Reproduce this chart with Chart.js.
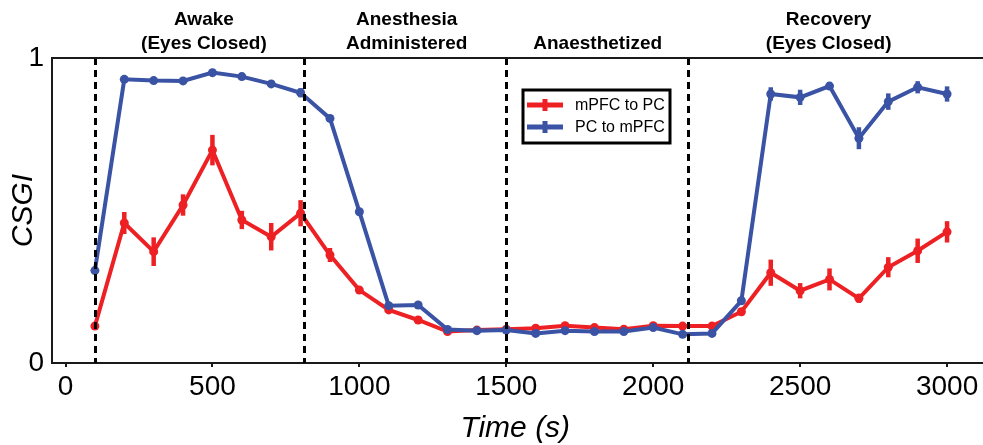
<!DOCTYPE html>
<html>
<head>
<meta charset="utf-8">
<script src="https://cdn.jsdelivr.net/npm/chart.js@4.4.1/dist/chart.umd.min.js"></script>
<style>
  html, body { margin: 0; padding: 0; background: #fff; overflow: hidden; }
  #wrap { position: relative; width: 983px; height: 445px; }
</style>
</head>
<body>
<div id="wrap"><canvas id="c"></canvas></div>
<script>
// ---- data ----
const times = [100, 200, 300, 400, 500, 600, 700, 800, 900, 1000,
               1100, 1200, 1300, 1400, 1500, 1600, 1700, 1800, 1900, 2000,
               2100, 2200, 2300, 2400, 2500, 2600, 2700, 2800, 2900, 3000];
const mpfcToPc = [0.121, 0.459, 0.365, 0.518, 0.698, 0.469, 0.414, 0.491, 0.354, 0.239,
                  0.174, 0.141, 0.103, 0.108, 0.111, 0.114, 0.122, 0.116, 0.111, 0.122,
                  0.121, 0.121, 0.168, 0.296, 0.237, 0.274, 0.212, 0.314, 0.368, 0.430];
const mpfcToPcErr = [0.010, 0.036, 0.047, 0.035, 0.050, 0.030, 0.045, 0.043, 0.023, 0.010,
                     0.008, 0.008, 0.006, 0.006, 0.006, 0.008, 0.008, 0.006, 0.006, 0.008,
                     0.008, 0.008, 0.012, 0.043, 0.025, 0.036, 0.015, 0.033, 0.040, 0.035];
const pcToMpfc = [0.303, 0.930, 0.926, 0.925, 0.952, 0.939, 0.915, 0.886, 0.802, 0.496,
                  0.188, 0.190, 0.110, 0.106, 0.108, 0.097, 0.106, 0.103, 0.103, 0.116,
                  0.094, 0.097, 0.204, 0.882, 0.871, 0.908, 0.737, 0.857, 0.904, 0.882];
const pcToMpfcErr = [0.008, 0.010, 0.010, 0.010, 0.012, 0.010, 0.010, 0.015, 0.010, 0.008,
                     0.008, 0.008, 0.006, 0.006, 0.006, 0.006, 0.006, 0.006, 0.006, 0.006,
                     0.006, 0.006, 0.010, 0.022, 0.025, 0.013, 0.036, 0.027, 0.020, 0.025];
const seriesLabels = ['mPFC to PC', 'PC to mPFC'];
const phaseBounds = [100, 810, 1500, 2120];
const phaseLabels = [['Awake', '(Eyes Closed)'], ['Anesthesia', 'Administered'], ['', 'Anaesthetized'], ['Recovery', '(Eyes Closed)']];
const phaseLabelX = [471, 1161, 1811, 2597];
const xTicks = [0, 500, 1000, 1500, 2000, 2500, 3000];
const yTicks = [0, 1];

const RED = '#ED2024';
const BLUE = '#3A53A4';
const AXIS = '#1a1a1a';
const FONT = "'Liberation Sans', Arial, Helvetica, sans-serif";

const errs = [mpfcToPcErr, pcToMpfcErr];

const overlay = {
  id: 'overlay',
  afterDatasetDraw(chart, args) {
    const ctx = chart.ctx;
    const xs = chart.scales.x, ys = chart.scales.y;
    const ds = chart.data.datasets[args.index];
    const e = errs[args.index];
    ctx.save();
    ctx.strokeStyle = ds.borderColor;
    ctx.lineWidth = 4.5;
    ctx.lineCap = 'butt';
    ds.data.forEach((p, i) => {
      const px = xs.getPixelForValue(p.x);
      ctx.beginPath();
      ctx.moveTo(px, ys.getPixelForValue(p.y - e[i]));
      ctx.lineTo(px, ys.getPixelForValue(p.y + e[i]));
      ctx.stroke();
    });
    ctx.restore();
  },
  afterDatasetsDraw(chart) {
    const ctx = chart.ctx;
    const xs = chart.scales.x;
    const a = chart.chartArea;
    ctx.save();
    // dashed phase boundaries
    ctx.strokeStyle = '#000';
    ctx.lineWidth = 3;
    ctx.setLineDash([7, 5]);
    phaseBounds.forEach(t => {
      const px = Math.round(xs.getPixelForValue(t)) + 0.5;
      ctx.beginPath();
      ctx.moveTo(px, a.top);
      ctx.lineTo(px, a.bottom);
      ctx.stroke();
    });
    ctx.setLineDash([]);
    // top spine, and bottom spine continued to the canvas edge
    ctx.strokeStyle = AXIS;
    ctx.lineWidth = 2;
    ctx.beginPath();
    ctx.moveTo(a.left - 1, a.top);
    ctx.lineTo(chart.width, a.top);
    ctx.moveTo(a.right - 2, a.bottom);
    ctx.lineTo(chart.width, a.bottom);
    ctx.stroke();
    // phase labels
    ctx.fillStyle = '#000';
    ctx.font = 'bold 19px ' + FONT;
    ctx.textAlign = 'center';
    ctx.textBaseline = 'alphabetic';
    phaseLabels.forEach((lines, i) => {
      const px = xs.getPixelForValue(phaseLabelX[i]);
      ctx.fillText(lines[0], px, 25);
      ctx.fillText(lines[1], px, 49);
    });
    // legend
    const bx = 523, by = 90, bw = 147, bh = 53;
    ctx.fillStyle = '#fff';
    ctx.fillRect(bx, by, bw, bh);
    ctx.strokeStyle = '#000';
    ctx.lineWidth = 3;
    ctx.strokeRect(bx, by, bw, bh);
    const rowY = [105, 127];
    chart.data.datasets.forEach((ds, i) => {
      const y = rowY[i];
      ctx.strokeStyle = ds.borderColor;
      ctx.lineWidth = 5;
      ctx.beginPath();
      ctx.moveTo(527, y); ctx.lineTo(563, y);
      ctx.moveTo(545, y - 6); ctx.lineTo(545, y + 6);
      ctx.stroke();
      ctx.fillStyle = '#000';
      ctx.font = '16px ' + FONT;
      ctx.textAlign = 'left';
      ctx.textBaseline = 'middle';
      ctx.fillText(ds.label, 575, y + 1);
    });
    ctx.restore();
  }
};

new Chart(document.getElementById('c'), {
  type: 'line',
  data: {
    datasets: [
      {
        label: seriesLabels[0],
        data: times.map((t, i) => ({ x: t, y: mpfcToPc[i] })),
        borderColor: RED, backgroundColor: RED,
        borderWidth: 4, pointRadius: 4.5, pointBorderWidth: 0,
        pointBackgroundColor: RED, tension: 0, order: 1
      },
      {
        label: seriesLabels[1],
        data: times.map((t, i) => ({ x: t, y: pcToMpfc[i] })),
        borderColor: BLUE, backgroundColor: BLUE,
        borderWidth: 4, pointRadius: 4.5, pointBorderWidth: 0,
        pointBackgroundColor: BLUE, tension: 0, order: 0
      }
    ]
  },
  options: {
    responsive: true,
    maintainAspectRatio: false,
    animation: false,
    devicePixelRatio: 1,
    layout: { padding: { top: 58, right: 0, left: 0, bottom: 0 } },
    plugins: { legend: { display: false }, tooltip: { enabled: false } },
    scales: {
      x: {
        type: 'linear',
        min: -46, max: 3107,
        afterBuildTicks: s => { s.ticks = xTicks.map(v => ({ value: v })); },
        afterFit: s => { s.height = 82; s.paddingRight = 0; s.paddingLeft = 0; },
        grid: { display: true, drawOnChartArea: false, drawTicks: true, tickLength: 4, color: AXIS, lineWidth: 2 },
        border: { display: true, color: AXIS, width: 2 },
        ticks: { autoSkip: false, maxRotation: 0, padding: 3, color: '#000', font: { family: FONT, size: 28 },
                 callback: v => String(v) },
        title: { display: true, text: 'Time (s)', color: '#000', padding: { top: 0, bottom: 1 },
                 font: { family: FONT, size: 30, style: 'italic', lineHeight: 1 } }
      },
      y: {
        type: 'linear',
        min: 0, max: 1,
        afterBuildTicks: s => { s.ticks = yTicks.map(v => ({ value: v })); },
        afterFit: s => { s.width = 52; s.paddingTop = 0; s.paddingBottom = 0; },
        grid: { display: false, drawTicks: false },
        border: { display: true, color: AXIS, width: 2 },
        ticks: { padding: 8, color: '#000', font: { family: FONT, size: 28 }, callback: v => String(v) },
        title: { display: true, text: 'CSGI', color: '#000', padding: { top: 9, bottom: 0 },
                 font: { family: FONT, size: 30, style: 'italic', lineHeight: 1 } }
      }
    }
  },
  plugins: [overlay]
});
</script>
</body>
</html>
